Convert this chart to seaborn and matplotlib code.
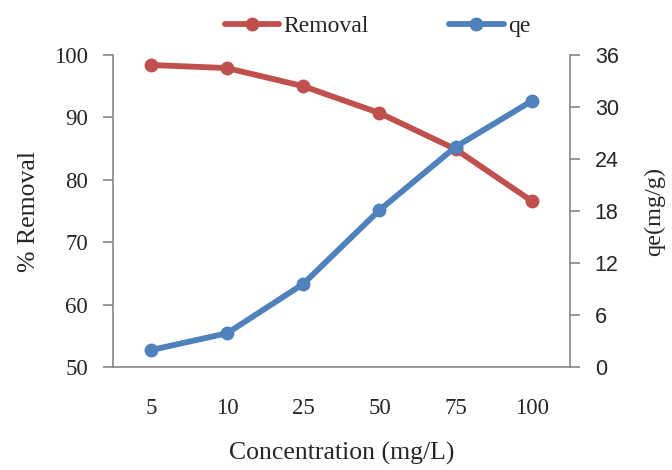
import matplotlib
matplotlib.use("Agg")
import matplotlib.pyplot as plt
from matplotlib.lines import Line2D
import seaborn as sns
import pandas as pd

categories = ["5", "10", "25", "50", "75", "100"]
removal = [98.4, 97.9, 95.0, 90.7, 84.9, 76.6]
qe = [1.96, 3.9, 9.6, 18.1, 25.4, 30.7]

sns.set_style("white")
plt.rcParams['font.family'] = ['Liberation Serif', 'DejaVu Serif']

red = "#C0504D"
blue = "#4F81BD"
grey = "#868686"

df = pd.DataFrame({"conc": categories, "removal": removal, "qe": qe})

fig = plt.figure(figsize=(6.72, 4.70), dpi=100)
ax = fig.add_axes([0.168, 0.219, 0.680, 0.664])
ax2 = ax.twinx()

sns.lineplot(data=df, x="conc", y="removal", ax=ax, color=red, lw=4.2,
             marker="o", markersize=10, markeredgewidth=0, sort=False)
sns.lineplot(data=df, x="conc", y="qe", ax=ax2, color=blue, lw=4.2,
             marker="o", markersize=10, markeredgewidth=0, sort=False)

ax.set_xlim(-0.5, len(categories) - 0.5)
ax.set_ylim(50, 100)
ax.set_yticks(range(50, 101, 10))
ax2.set_ylim(0, 36)
ax2.set_yticks(range(0, 37, 6))

ax.set_xticks(range(len(categories)))
ax.set_xticklabels(categories)
ax.set_xticks([i - 0.5 for i in range(len(categories) + 1)], minor=True)
ax.tick_params(axis="x", which="major", length=0, pad=22, labelsize=16.5)
ax.tick_params(axis="x", which="minor", length=7, width=1.2, color=grey, direction="out")
ax.tick_params(axis="y", length=7, width=1.2, color=grey, direction="out", labelsize=16.5, pad=11, left=True)
ax2.tick_params(axis="y", length=7, width=1.2, color=grey, direction="out", labelsize=15.5, pad=11, right=True)
for lab in ax2.get_yticklabels():
    lab.set_family(['Liberation Sans', 'DejaVu Sans'])

for a in (ax, ax2):
    for s in ["left", "right", "bottom"]:
        a.spines[s].set_color(grey)
        a.spines[s].set_linewidth(1.2)
    a.spines["top"].set_visible(False)
ax.spines["right"].set_visible(False)
ax2.spines["left"].set_visible(False)
ax2.spines["bottom"].set_visible(False)

ax.set_xlabel("Concentration (mg/L)", fontsize=18.5, labelpad=17)
ax.set_ylabel("% Removal", fontsize=18.5, labelpad=10)
ax2.set_ylabel("qe(mg/g)", fontsize=17.5, labelpad=18)

handles = [Line2D([], [], color=red, lw=4.2, marker="o", markersize=10, markeredgewidth=0),
           Line2D([], [], color=blue, lw=4.2, marker="o", markersize=10, markeredgewidth=0)]
fig.legend(handles, ["Removal", "qe"], loc="upper center", bbox_to_anchor=(0.562, 1.012),
           ncol=2, frameon=False, fontsize=17, handlelength=2.3, columnspacing=3.4,
           handletextpad=0.2)

fig.savefig("out.png", dpi=100)
